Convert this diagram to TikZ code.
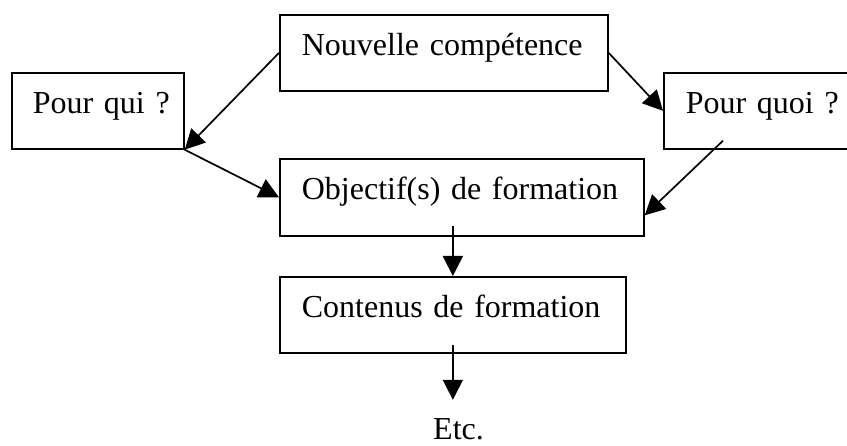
\documentclass[tikz,border=0pt]{standalone}
\usepackage{fontspec}
\setmainfont{Liberation Serif}
\usetikzlibrary{arrows.meta}

\begin{document}
\begin{tikzpicture}[x=1pt, y=-1pt,
		font=\fontsize{32}{38}\selectfont,
		box/.style={draw, line width=1.7pt, anchor=north west, inner xsep=22pt, inner ysep=0pt,
			text width=#1, align=left, text height=41pt, text depth=35pt},
		arr/.style={line width=1.7pt, -{Triangle[length=20pt, width=20pt]}}]
			\useasboundingbox (0, 0) rectangle (847, 446);
			\clip (0, 0) rectangle (847, 446);

			\node[box=284pt] (nouv) at (279, 14) {Nouvelle~compétence};
			\node[box=130pt, inner xsep=21pt] (qui) at (11, 72) {Pour~qui~?};
			\node[box=150pt] (quoi) at (663, 72) {Pour~quoi~?};
			\node[box=320pt, text depth=36pt] (obj) at (279, 158) {Objectif(s)~de~formation};
			\node[box=302pt] (cont) at (279, 276) {Contenus~de~formation};
			\node[inner sep=0pt, text height=40pt, anchor=base west] (etc) at (433, 440) {Etc.};

			\coordinate (objout) at (obj.south -| cont.north);
			\coordinate (contout) at ([yshift=9pt]cont.south);

			\draw[arr] (nouv.west) -- (qui.south east);
			\draw[arr] (qui.south east) -- (obj.west);
			\draw[arr] (nouv.east) -- (quoi.west);
			\draw[arr] ([shift={(60pt, 9pt)}]quoi.south west) -- ([yshift=-18pt]obj.east);
			\draw[arr] ([yshift=11pt]objout) -- (cont.north);
			\draw[arr] (contout) -- (etc.north -| contout);

		\end{tikzpicture}
\end{document}
